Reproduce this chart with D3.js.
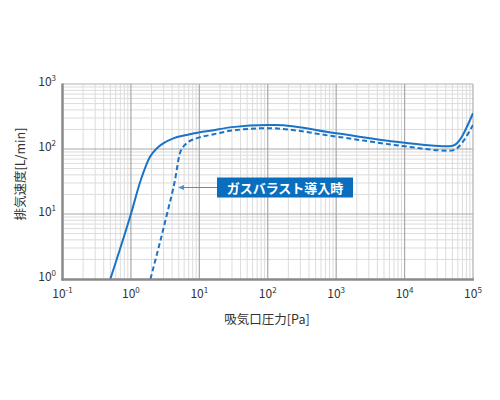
<!DOCTYPE html>
<html><head><meta charset="utf-8">
<script src="https://cdn.jsdelivr.net/npm/d3@7"></script>
<style>
body{margin:0;background:#fff;}
svg{display:block;font-family:"Noto Sans CJK JP","Noto Sans",sans-serif;}
</style></head>
<body>
<svg id="c" width="500" height="400"></svg>
<script>
// Data (Pa, L/min)
const solidX = [0.5, 1.0, 1.39, 1.9, 2.38, 2.97, 4.16, 6.53, 10.2, 14.4, 30, 100, 130, 1000, 10000, 45000, 52000, 100000];
const solidY = [1, 10, 33, 76, 102, 122, 146, 164, 181, 191, 217, 233, 233, 174, 125, 110, 113, 355];
const dashX = [1.93, 3.37, 4.4, 5.2, 6.5, 9.1, 14.4, 30, 100, 1000, 10000, 45000, 52000, 100000];
const dashY = [1, 10, 33, 86, 122, 146, 164, 192, 209, 155, 110, 94, 96, 235];
const xExps = [-1, 0, 1, 2, 3, 4, 5];
const yExps = [0, 1, 2, 3];
const xTitle = "吸気口圧力[Pa]";
const yTitle = "排気速度[L/min]";
const noteText = "ガスバラスト導入時";

const svg = d3.select("#c");
const L = 62.5, R = 473, T = 84, B = 279;
const x = d3.scaleLog().domain([0.1, 1e5]).range([L, R]);
const y = d3.scaleLog().domain([1, 1000]).range([B, T]);

// minor grid
const g = svg.append("g");
const minorX = [], minorY = [];
for (let e = -1; e < 5; e++) for (let k = 2; k <= 9; k++) minorX.push(k * Math.pow(10, e));
for (let e = 0; e < 3; e++) for (let k = 2; k <= 9; k++) minorY.push(k * Math.pow(10, e));
g.selectAll(".mx").data(minorX).enter().append("line")
  .attr("x1", d => x(d)).attr("x2", d => x(d)).attr("y1", T).attr("y2", B)
  .attr("stroke", "#dcdcdc").attr("stroke-width", 1);
g.selectAll(".my").data(minorY).enter().append("line")
  .attr("y1", d => y(d)).attr("y2", d => y(d)).attr("x1", L).attr("x2", R)
  .attr("stroke", "#dcdcdc").attr("stroke-width", 1);
// major grid
g.selectAll(".Mx").data(xExps.slice(1, -1)).enter().append("line")
  .attr("x1", d => x(Math.pow(10, d))).attr("x2", d => x(Math.pow(10, d))).attr("y1", T).attr("y2", B)
  .attr("stroke", "#a8a8a8").attr("stroke-width", 1.2);
g.selectAll(".My").data(yExps.slice(1, -1)).enter().append("line")
  .attr("y1", d => y(Math.pow(10, d))).attr("y2", d => y(Math.pow(10, d))).attr("x1", L).attr("x2", R)
  .attr("stroke", "#a8a8a8").attr("stroke-width", 1.2);
// border
svg.append("line").attr("x1", L).attr("x2", R).attr("y1", T).attr("y2", T).attr("stroke", "#b0b0b0").attr("stroke-width", 1.2);
svg.append("line").attr("x1", R).attr("x2", R).attr("y1", T).attr("y2", B).attr("stroke", "#b0b0b0").attr("stroke-width", 1.2);

// curves
const line = d3.line().x(d => x(d[0])).y(d => y(d[1])).curve(d3.curveMonotoneX);
svg.append("clipPath").attr("id", "pc").append("rect").attr("x", L).attr("y", T).attr("width", R - L).attr("height", B - T);
svg.append("path").datum(solidX.map((v, i) => [v, solidY[i]]))
  .attr("d", line).attr("fill", "none").attr("stroke", "#1a73c6").attr("stroke-width", 2)
  .attr("clip-path", "url(#pc)");
svg.append("path").datum(dashX.map((v, i) => [v, dashY[i]]))
  .attr("d", line).attr("fill", "none").attr("stroke", "#1a73c6").attr("stroke-width", 2)
  .attr("stroke-dasharray", "5,3").attr("clip-path", "url(#pc)");

// axes
svg.append("line").attr("x1", L).attr("x2", L).attr("y1", T - 0.5).attr("y2", B + 1.5).attr("stroke", "#8a8a8a").attr("stroke-width", 2.5);
svg.append("line").attr("x1", L - 1).attr("x2", R + 1).attr("y1", B + 0.5).attr("y2", B + 0.5).attr("stroke", "#8a8a8a").attr("stroke-width", 2.5);

// tick labels
const xt = svg.append("g").attr("fill", "#333").attr("font-size", 12);
xExps.forEach(e => {
  const t = xt.append("text").attr("x", x(Math.pow(10, e))).attr("y", 298).attr("text-anchor", "middle");
  t.append("tspan").text("10");
  t.append("tspan").attr("dy", -5).attr("font-size", 8).text(e);
});
const yt = svg.append("g").attr("fill", "#333").attr("font-size", 12);
yExps.forEach(e => {
  const t = yt.append("text").attr("x", 56).attr("y", y(Math.pow(10, e)) + 2).attr("text-anchor", "end");
  t.append("tspan").text("10");
  t.append("tspan").attr("dy", -5).attr("font-size", 8).text(e);
});

// titles
svg.append("text").attr("x", 267).attr("y", 324).attr("text-anchor", "middle")
  .attr("font-size", 12.5).attr("fill", "#333").text(xTitle);
svg.append("text").attr("transform", "translate(25,174) rotate(-90)").attr("text-anchor", "middle")
  .attr("font-size", 12.5).attr("fill", "#333").text(yTitle);

// annotation
const ax = 217, ay = 177.5, aw = 136, ah = 20;
svg.append("line").attr("x1", ax).attr("x2", 181).attr("y1", ay + ah / 2).attr("y2", ay + ah / 2)
  .attr("stroke", "#4a90d2").attr("stroke-width", 1);
svg.append("path").attr("d", `M178,${ay + ah / 2} l6,-2.5 l0,5 z`).attr("fill", "#4a90d2");
svg.append("rect").attr("x", ax).attr("y", ay).attr("width", aw).attr("height", ah).attr("fill", "#0a6ebf");
svg.append("text").attr("x", ax + aw / 2).attr("y", ay + 15).attr("text-anchor", "middle")
  .attr("font-size", 13).attr("font-weight", "bold").attr("fill", "#fff").text(noteText);
</script>
</body></html>
